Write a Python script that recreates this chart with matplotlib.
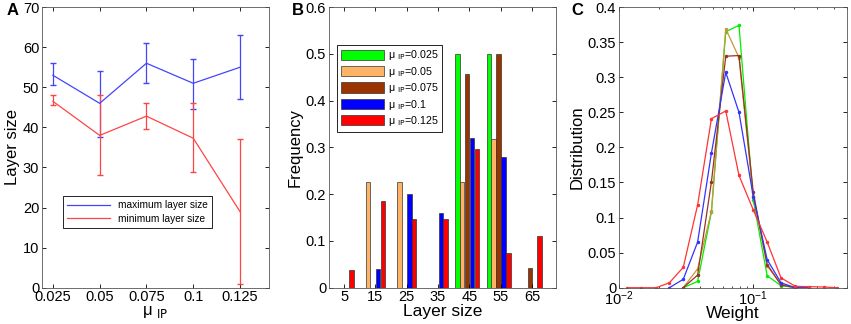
import matplotlib.pyplot as plt
from matplotlib.lines import Line2D
import numpy as np

plt.rcParams['font.family'] = ['Liberation Sans', 'DejaVu Sans']

# ---- panel A data
mu_ip = [0.025, 0.05, 0.075, 0.1, 0.125]
max_size = [53, 46, 56, 51, 55]
max_lo = [50.5, 37.5, 51, 44.5, 47]
max_hi = [56, 54, 61, 57, 63]
min_size = [46.5, 38, 42.8, 37.3, 19]
min_lo = [45.5, 28, 39.7, 28.8, 1]
min_hi = [48, 48, 46, 46, 37]

# ---- panel B data
layer_bins = [5, 15, 25, 35, 45, 55, 65]
freq_0025 = [0, 0, 0, 0, 0.5, 0.5, 0]
freq_005 = [0, 0.227, 0.227, 0, 0.227, 0.318, 0]
freq_0075 = [0, 0, 0, 0, 0.458, 0.5, 0.042]
freq_01 = [0, 0.04, 0.2, 0.16, 0.32, 0.28, 0]
freq_0125 = [0.037, 0.185, 0.148, 0.148, 0.296, 0.074, 0.111]
bar_labels = ['0.025', '0.05', '0.075', '0.1', '0.125']
bar_colors = ['#00ff00', '#ffb366', '#993300', '#0000ff', '#ff0000']

# ---- panel C data
weight = [0.0115, 0.0146, 0.0189, 0.0237, 0.0301, 0.0385, 0.0488, 0.0624,
          0.0783, 0.1, 0.127, 0.161, 0.206, 0.261, 0.334, 0.421]
dist_0025 = [np.nan, np.nan, np.nan, np.nan, 0, 0.009, 0.108, 0.365,
             0.374, 0.125, 0.017, 0.003, 0, 0, np.nan, np.nan]
dist_005 = [np.nan, np.nan, np.nan, np.nan, 0, 0.027, 0.109, 0.369,
            0.328, 0.130, 0.031, 0.005, 0, np.nan, np.nan, np.nan]
dist_0075 = [np.nan, np.nan, np.nan, np.nan, 0, 0.018, 0.151, 0.330,
             0.331, 0.136, 0.033, 0.004, 0, np.nan, np.nan, np.nan]
dist_01 = [np.nan, np.nan, np.nan, 0, 0.012, 0.065, 0.192, 0.307,
           0.250, 0.130, 0.040, 0.007, 0, 0, np.nan, np.nan]
dist_0125 = [0, 0, 0, 0.007, 0.029, 0.118, 0.241, 0.252,
             0.160, 0.111, 0.065, 0.014, 0.002, 0.0015, 0.001, 0]
line_colors = ['#00ee00', '#c8963c', '#993322', '#3333ff', '#ff3333']

fig = plt.figure(figsize=(8.51, 3.24), dpi=100)
axA = fig.add_axes([0.0494, 0.112, 0.2667, 0.866])
axB = fig.add_axes([0.3866, 0.112, 0.2667, 0.866])
axC = fig.add_axes([0.7274, 0.112, 0.2680, 0.866])

for ax in (axA, axB, axC):
    ax.tick_params(direction='in', top=True, right=True, labelsize=10.5, length=3,
                   width=0.6, pad=2)
    ax.tick_params(which='minor', direction='in', top=True, right=True, length=1.5, width=0.5)
    for s in ax.spines.values():
        s.set_linewidth(0.6)
        s.set_color('#555555')

# A
mx = np.array(max_size)
mn = np.array(min_size)
axA.errorbar(mu_ip, mx, yerr=[mx - np.array(max_lo), np.array(max_hi) - mx],
             color='#4444ff', lw=0.9, capsize=2, elinewidth=0.9)
axA.errorbar(mu_ip, mn, yerr=[mn - np.array(min_lo), np.array(min_hi) - mn],
             color='#ff4444', lw=0.9, capsize=2, elinewidth=0.9)
axA.set_xlim(0.0192, 0.1405)
axA.set_ylim(0, 70)
axA.set_xticks(mu_ip)
axA.set_xticklabels(['0.025', '0.05', '0.075', '0.1', '0.125'])
axA.set_yticks(range(0, 71, 10))
axA.set_ylabel('Layer size', fontsize=12, labelpad=2)
axA.set_xlabel('μ $_{\\mathrm{IP}}$', fontsize=12, labelpad=0)
handlesA = [Line2D([], [], color='#4444ff', lw=0.9), Line2D([], [], color='#ff4444', lw=0.9)]
leg = axA.legend(handlesA, ['maximum layer size', 'minimum layer size'],
                 loc='lower left', bbox_to_anchor=(0.07, 0.195), fontsize=7.3,
                 handlelength=4.2, fancybox=False, edgecolor='black', framealpha=1,
                 borderpad=0.4, labelspacing=0.35)
leg.get_frame().set_linewidth(0.6)

# B
offsets = [-3.8, -2.3, -0.7, 0.85, 2.4]
series_b = [freq_0025, freq_005, freq_0075, freq_01, freq_0125]
for k in range(5):
    xs = np.array(layer_bins) + offsets[k]
    vals = np.array(series_b[k])
    keep = vals > 0
    axB.bar(xs[keep], vals[keep], width=1.4, color=bar_colors[k], edgecolor='#333333',
            linewidth=0.5, label='μ $_{\\mathrm{IP}}$=' + bar_labels[k])
axB.set_xlim(0.2, 72.6)
axB.set_ylim(0, 0.6)
axB.set_xticks(layer_bins)
axB.set_yticks(np.arange(0, 0.61, 0.1))
axB.set_yticklabels(['0', '0.1', '0.2', '0.3', '0.4', '0.5', '0.6'])
axB.set_ylabel('Frequency', fontsize=12, labelpad=2)
axB.set_xlabel('Layer size', fontsize=12.5, labelpad=0)
legB = axB.legend(loc='upper left', bbox_to_anchor=(0.012, 0.885), fontsize=7.7,
                  handlelength=4.0, handleheight=1.1, labelspacing=0.22,
                  fancybox=False, edgecolor='black', framealpha=1, borderpad=0.35,
                  handletextpad=0.4)
legB.get_frame().set_linewidth(0.6)

# C
series_c = [dist_0025, dist_005, dist_0075, dist_01, dist_0125]
for k in range(5):
    axC.plot(weight, series_c[k], color=line_colors[k], lw=0.9, marker='.', ms=3)
axC.set_xscale('log')
axC.set_xlim(0.01, 0.5)
axC.set_ylim(0, 0.4)
axC.set_yticks(np.arange(0, 0.41, 0.05))
axC.set_yticklabels(['0', '0.05', '0.1', '0.15', '0.2', '0.25', '0.3', '0.35', '0.4'])
axC.tick_params(axis='x', pad=1)
axC.set_ylabel('Distribution', fontsize=12, labelpad=2)
axC.set_xlabel('Weight', fontsize=12.5, labelpad=-1)

fig.text(0.008, 0.955, 'A', fontsize=12, fontweight='bold')
fig.text(0.343, 0.955, 'B', fontsize=12, fontweight='bold')
fig.text(0.672, 0.955, 'C', fontsize=12, fontweight='bold')

fig.savefig('out.png', dpi=100)
